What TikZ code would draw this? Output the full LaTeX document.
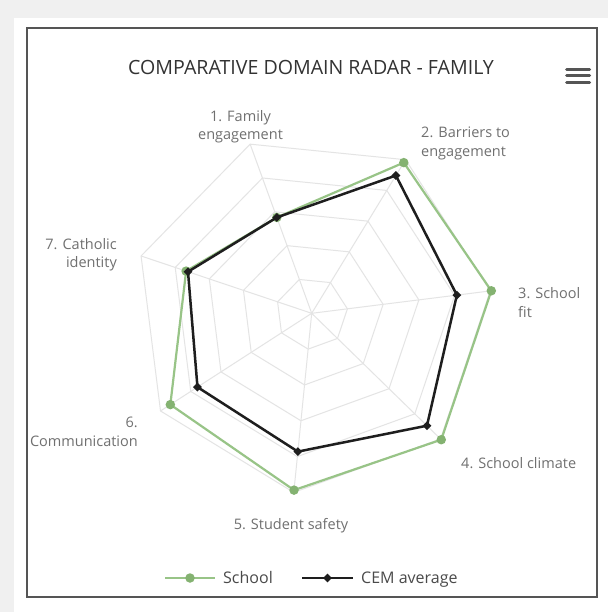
\documentclass[tikz,border=0pt]{standalone}
\usepackage{fontspec}
\setmainfont{Open Sans}
\usetikzlibrary{calc,shapes.geometric}
\definecolor{bggray}{HTML}{F0F0F0}
\definecolor{framec}{HTML}{555555}
\definecolor{gridc}{HTML}{E4E4E4}
\definecolor{schoolc}{HTML}{98C487}
\definecolor{schoolm}{HTML}{84B271}
\definecolor{cemc}{HTML}{1E1E1E}
\definecolor{labelc}{HTML}{707070}
\definecolor{legendc}{HTML}{4A4A4A}
\definecolor{titlec}{HTML}{333333}
\begin{document}
\begin{tikzpicture}[x=1pt,y=-1pt,
  gridline/.style={draw=gridc,line width=1pt},
  schoolline/.style={draw=schoolc,line width=2.2pt,line join=round},
  cemline/.style={draw=cemc,line width=2.5pt,line join=round},
  schoolmark/.style={circle,fill=schoolm,draw=none,inner sep=0pt,minimum size=9.5pt},
  cemmark/.style={diamond,fill=cemc,draw=none,inner sep=0pt,minimum size=9pt},
  axislabel/.style={text=labelc,font=\fontsize{14.5}{18.5}\selectfont,inner sep=0pt},
  legendtext/.style={text=legendc,font=\fontsize{16}{19}\selectfont,inner sep=0pt},
  titletext/.style={text=titlec,font=\fontsize{19.6}{22}\selectfont,inner sep=0pt},
  hamburger/.style={draw=framec,line width=3pt,line cap=round}
]
\useasboundingbox (0,0) rectangle (608,612);
% background and panel
\fill[bggray] (0,0) rectangle (608,612);
\fill[white] (13.5,18) rectangle (608,612);
\draw[framec,line width=2pt] (26.7,28) rectangle (596.7,597.3);
% title and menu
\node[titletext,anchor=base] (title) at (311,75) {COMPARATIVE DOMAIN RADAR - FAMILY};
\draw[hamburger] (566.5,69.3) -- (589.5,69.3);
\draw[hamburger] (566.5,76) -- (589.5,76);
\draw[hamburger] (566.5,82.7) -- (589.5,82.7);
% radar grid
\coordinate (O) at (311.7,313.3);
\foreach \r in {36,72,108,144,180}{
  \draw[gridline] ($(O)+(110:\r pt)$)
    \foreach \k in {1,...,6}{ -- ($(O)+(110-\k*51.4286:\r pt)$) } -- cycle;
}
\foreach \k in {0,...,6}{
  \draw[gridline] (O) -- ($(O)+(110-\k*51.4286:180pt)$);
}
% data coordinates
\coordinate (s1) at ($(O)+(110:102pt)$);
\coordinate (s2) at ($(O)+(58.571:176.6pt)$);
\coordinate (s3) at ($(O)+(7.143:181pt)$);
\coordinate (s4) at ($(O)+(-44.286:181pt)$);
\coordinate (s5) at ($(O)+(-95.714:177.7pt)$);
\coordinate (s6) at ($(O)+(-147.143:168.3pt)$);
\coordinate (s7) at ($(O)+(161.429:132.5pt)$);
\coordinate (c1) at ($(O)+(110:102pt)$);
\coordinate (c2) at ($(O)+(58.571:161.5pt)$);
\coordinate (c3) at ($(O)+(7.143:146.3pt)$);
\coordinate (c4) at ($(O)+(-44.286:161pt)$);
\coordinate (c5) at ($(O)+(-95.714:139pt)$);
\coordinate (c6) at ($(O)+(-147.143:136pt)$);
\coordinate (c7) at ($(O)+(161.429:130.5pt)$);
% School series
\draw[schoolline] (s1) -- (s2) -- (s3) -- (s4) -- (s5) -- (s6) -- (s7) -- cycle;
\foreach \k in {1,...,7}{ \node[schoolmark] (sm\k) at (s\k) {}; }
% CEM series
\draw[cemline] (c1) -- (c2) -- (c3) -- (c4) -- (c5) -- (c6) -- (c7) -- cycle;
\foreach \k in {1,...,7}{ \node[cemmark] (cm\k) at (c\k) {}; }
% axis labels
\node[axislabel,anchor=north,align=center] (l1) at (240.5,110) {1. Family\\engagement};
\node[axislabel,anchor=north west,align=left] (l2) at (421,127) {2. Barriers to\\engagement};
\node[axislabel,anchor=north west,align=left] (l3) at (518,287.5) {3. School\\fit};
\node[axislabel,anchor=base west] (l4) at (461,468) {4. School climate};
\node[axislabel,anchor=base] (l5) at (291,529.5) {5. Student safety};
\node[axislabel,anchor=north east,align=right] (l6) at (138,417) {6.\\Communication};
\node[axislabel,anchor=north east,align=right] (l7) at (117,238) {7. Catholic\\identity};
% legend
\coordinate (lsa) at (165,578);
\coordinate (lsb) at (215,578);
\draw[schoolline] (lsa) -- (lsb);
\node[schoolmark] (lsm) at (190,578) {};
\node[legendtext,anchor=base west] (lst) at (223,583.7) {School};
\coordinate (lca) at (302,578);
\coordinate (lcb) at (353,578);
\draw[cemline] (lca) -- (lcb);
\node[cemmark] (lcm) at (327.5,578) {};
\node[legendtext,anchor=base west] (lct) at (361,583.7) {CEM average};
\end{tikzpicture}
\end{document}
